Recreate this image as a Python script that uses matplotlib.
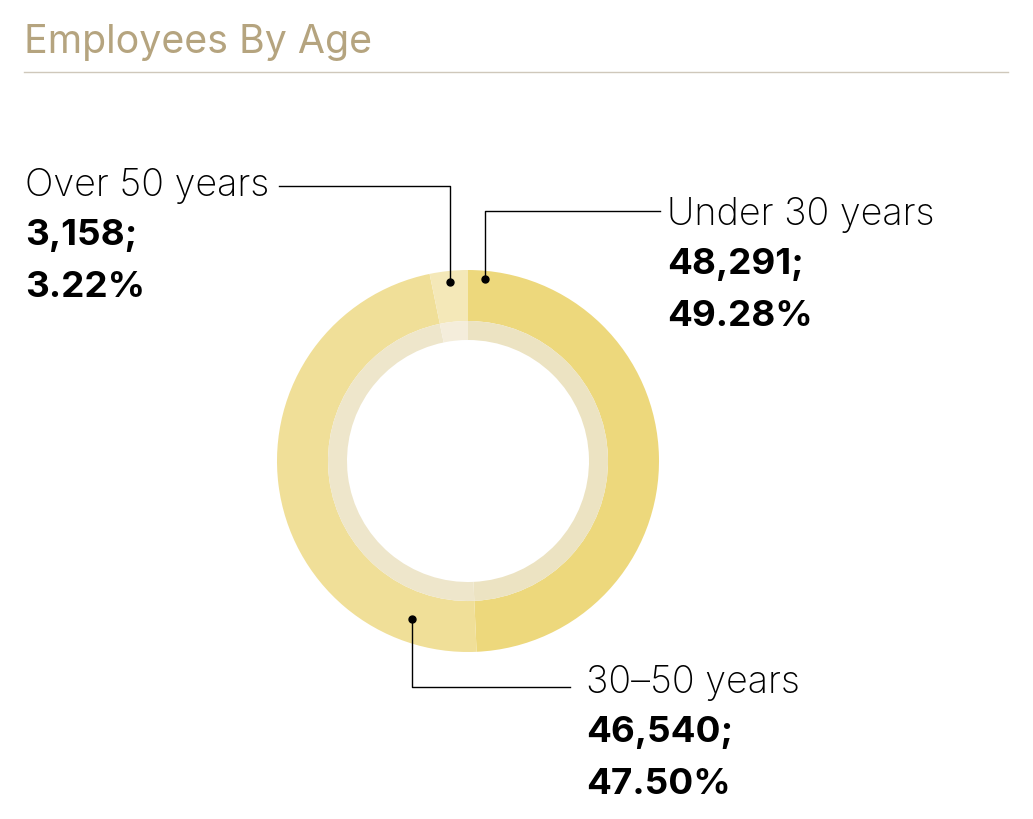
import numpy as np
import matplotlib
matplotlib.use('Agg')
from matplotlib import pyplot as plt

# data
groups = ['Under 30 years', '30–50 years', 'Over 50 years']
counts = [48291, 46540, 3158]
shares = ['49.28%', '47.50%', '3.22%']
outer_colors = ['#EDD87C', '#F0DF98', '#F4E8B8']
inner_colors = ['#ECE3C2', '#EEE6CB', '#F4EDDB']

W, H = 1033, 819
cx, cy = 468, H - 461     # donut centre (pixels, y up)
R_out, R_mid, R_in = 191, 140, 121

plt.rcParams['font.family'] = ['Inter', 'DejaVu Sans']

fig = plt.figure(figsize=(W / 100, H / 100), dpi=100)
ax = fig.add_axes([0, 0, 1, 1])

ax.pie(counts, colors=outer_colors, startangle=90, counterclock=False,
       center=(cx, cy), radius=R_out, frame=True,
       wedgeprops=dict(width=R_out - R_mid, linewidth=0))
ax.pie(counts, colors=inner_colors, startangle=90, counterclock=False,
       center=(cx, cy), radius=R_mid, frame=True,
       wedgeprops=dict(width=R_mid - R_in, linewidth=0))
ax.set_xlim(0, W)
ax.set_ylim(0, H)
ax.set_aspect('equal')
ax.axis('off')

# title + rule
ax.text(24, H - 53, 'Employees By Age', fontsize=28.3, color='#B5A47F',
        va='baseline', ha='left')
ax.plot([24, 1008], [H - 72, H - 72], color='#CFC8BB', lw=1)

# where each leader touches the ring: fraction along wedge, radius
anchor_frac = [0.03, 0.13, 0.5]
anchor_r = [183, 168, 180]
# label layout: text x, first baseline, elbow y, line end x
label_x = [667, 586, 25]
label_y = [225, 693, 196]
elbow_y = [211, 687, 186]
line_end = [660, 570, 279]

total = sum(counts)
start = 0.0
for i, name in enumerate(groups):
    span = counts[i] / total * 360
    ang = np.deg2rad(90 - (start + anchor_frac[i] * span))
    start += span
    px = cx + anchor_r[i] * np.cos(ang)
    py = cy + anchor_r[i] * np.sin(ang)
    ey = H - elbow_y[i]
    ax.plot([px, px, line_end[i]], [py, ey, ey], color='black', lw=1)
    ax.plot(px, py, 'o', color='black', ms=5)

    ty = H - label_y[i]
    ax.text(label_x[i], ty, name, fontsize=27.2, fontweight='light',
            color='black', va='baseline', ha='left')
    ax.text(label_x[i], ty - 49, f'{counts[i]:,};', fontsize=26.5,
            fontweight='bold', color='black', va='baseline', ha='left')
    ax.text(label_x[i], ty - 101, shares[i], fontsize=26.5,
            fontweight='bold', color='black', va='baseline', ha='left')

fig.savefig('out.png', dpi=100, facecolor='white')
